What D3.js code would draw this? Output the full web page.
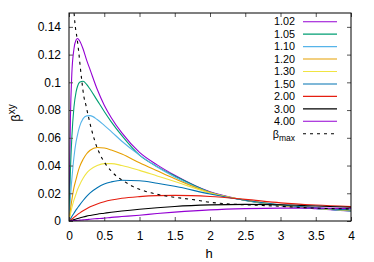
<!DOCTYPE html>
<html><head><meta charset="utf-8">
<script src="https://cdn.jsdelivr.net/npm/d3@7"></script>
<style>
html,body{margin:0;padding:0;background:#fff;}
svg{display:block;font-family:"Liberation Sans",Arial,Helvetica,sans-serif;}
</style></head>
<body>
<svg id="c" width="374" height="262"></svg>
<script>
// ---- data ----
const hGrid = [0, 0.02, 0.04, 0.07, 0.1, 0.12, 0.15, 0.2, 0.25, 0.3, 0.4, 0.5, 0.6, 0.75, 1, 1.25, 1.5, 2, 2.5, 3, 3.5, 4];
const seriesNames = ["1.02", "1.05", "1.10", "1.20", "1.30", "1.50", "2.00", "3.00", "4.00"];
const s102 = [0, 0.074, 0.106, 0.124, 0.1305, 0.1316, 0.1300, 0.124, 0.116, 0.109, 0.095, 0.0835, 0.0745, 0.0635, 0.0495, 0.0405, 0.0330, 0.0210, 0.0150, 0.0112, 0.0089, 0.0072];
const s105 = [0, 0.036, 0.060, 0.082, 0.093, 0.097, 0.1000, 0.1008, 0.0985, 0.095, 0.0870, 0.0790, 0.0715, 0.0615, 0.0475, 0.0392, 0.0325, 0.0208, 0.0149, 0.0112, 0.0090, 0.0073];
const s110 = [0, 0.017, 0.030, 0.046, 0.057, 0.062, 0.068, 0.0738, 0.0758, 0.0760, 0.0732, 0.0690, 0.0645, 0.0575, 0.0475, 0.0390, 0.0318, 0.0206, 0.0149, 0.0113, 0.0091, 0.0074];
const s120 = [0, 0.008, 0.015, 0.024, 0.030, 0.034, 0.039, 0.0445, 0.0485, 0.0510, 0.0530, 0.0526, 0.0512, 0.0483, 0.0420, 0.0362, 0.0305, 0.0205, 0.0150, 0.0114, 0.0092, 0.0076];
const s130 = [0, 0.005, 0.0095, 0.015, 0.0195, 0.0225, 0.026, 0.0308, 0.0345, 0.0370, 0.0400, 0.0414, 0.0414, 0.0400, 0.0365, 0.0325, 0.0285, 0.0202, 0.0151, 0.0115, 0.0093, 0.0077];
const s150 = [0, 0.0016, 0.0032, 0.0056, 0.0080, 0.0094, 0.0115, 0.0148, 0.0178, 0.0203, 0.0240, 0.0267, 0.0282, 0.0294, 0.0290, 0.0272, 0.0250, 0.0195, 0.0150, 0.0117, 0.0095, 0.0079];
const s200 = [0, 0.0007, 0.0014, 0.0026, 0.0038, 0.0046, 0.0057, 0.0074, 0.0089, 0.0102, 0.0123, 0.0139, 0.0151, 0.0164, 0.0176, 0.0183, 0.0185, 0.0177, 0.0156, 0.0131, 0.0115, 0.0104];
const s300 = [0, 0.0003, 0.0006, 0.0010, 0.0015, 0.0018, 0.0022, 0.0029, 0.0035, 0.0040, 0.0049, 0.0056, 0.0063, 0.0072, 0.0085, 0.0096, 0.0105, 0.0116, 0.0120, 0.0117, 0.0108, 0.0099];
const s400 = [0, 0.0001, 0.0002, 0.0003, 0.0004, 0.0005, 0.0006, 0.0008, 0.0010, 0.0013, 0.0017, 0.0021, 0.0026, 0.0032, 0.0042, 0.0054, 0.0064, 0.0080, 0.0089, 0.0093, 0.0093, 0.0090];
const betaMaxH = [0.066, 0.075, 0.09, 0.115, 0.14, 0.16, 0.182, 0.21, 0.24, 0.27, 0.33, 0.39, 0.45, 0.52, 0.6, 0.68, 0.77, 0.9, 1.08, 1.3, 1.5, 1.75, 2.0, 2.3, 2.6, 3.0, 3.3, 3.6, 4.0];
const betaMaxV = [0.155, 0.148, 0.140, 0.1316, 0.121, 0.111, 0.101, 0.090, 0.0835, 0.0765, 0.0640, 0.0540, 0.0470, 0.0410, 0.0360, 0.0320, 0.0290, 0.0250, 0.0215, 0.0187, 0.0171, 0.0155, 0.0135, 0.0122, 0.0115, 0.0106, 0.0097, 0.0091, 0.0087];
const xTicks = [0, 0.5, 1, 1.5, 2, 2.5, 3, 3.5, 4];
const yTicks = [0, 0.02, 0.04, 0.06, 0.08, 0.1, 0.12, 0.14];
const yTickLabels = ["0", "0.02", "0.04", "0.06", "0.08", "0.1", "0.12", "0.14"];
const seriesValues = [s102, s105, s110, s120, s130, s150, s200, s300, s400];
const colors = ["#9400d3", "#009e73", "#56b4e9", "#e69f00", "#f0e442", "#0072b2", "#e51e10", "#000000", "#9400d3"];

// ---- drawing ----
const svg = d3.select("#c");
const L = 69, R = 351, T = 13, B = 221;
const x = d3.scaleLinear().domain([0, 4]).range([L, R]);
const y = d3.scaleLinear().domain([0, 0.15]).range([B, T]);

svg.append("defs").append("clipPath").attr("id", "clip")
  .append("rect").attr("x", L).attr("y", T).attr("width", R - L).attr("height", B - T);

const line = d3.line().x(d => x(d[0])).y(d => y(d[1])).curve(d3.curveMonotoneX);
const plot = svg.append("g").attr("clip-path", "url(#clip)");

seriesValues.forEach((vals, i) => {
  plot.append("path")
    .datum(hGrid.map((h, j) => [h, vals[j]]))
    .attr("d", line)
    .attr("fill", "none")
    .attr("stroke", colors[i])
    .attr("stroke-width", 1.1);
});
plot.append("path")
  .datum(betaMaxH.map((h, j) => [h, betaMaxV[j]]))
  .attr("d", line)
  .attr("fill", "none")
  .attr("stroke", "#000")
  .attr("stroke-width", 1.1)
  .attr("stroke-dasharray", "3,4");

// axes (ticks inward, mirrored)
const fs = "12px";
const gB = svg.append("g").attr("transform", `translate(0,${B})`)
  .call(d3.axisBottom(x).tickValues(xTicks).tickSize(-4).tickPadding(10).tickFormat(d => String(d)));
const gT = svg.append("g").attr("transform", `translate(0,${T})`)
  .call(d3.axisTop(x).tickValues(xTicks).tickSize(-4).tickFormat(""));
const gL = svg.append("g").attr("transform", `translate(${L},0)`)
  .call(d3.axisLeft(y).tickValues(yTicks).tickSize(-4).tickPadding(8).tickFormat((d, i) => yTickLabels[i]));
const gR = svg.append("g").attr("transform", `translate(${R},0)`)
  .call(d3.axisRight(y).tickValues(yTicks).tickSize(-4).tickFormat(""));
[gB, gT, gL, gR].forEach(g => {
  g.select(".domain").remove();
  g.selectAll("line").attr("stroke", "#555").attr("stroke-width", 1);
  g.selectAll("text").attr("font-size", fs).attr("fill", "#000")
    .attr("font-family", '"Liberation Sans",Arial,sans-serif');
});

svg.append("rect").attr("x", L).attr("y", T).attr("width", R - L).attr("height", B - T)
  .attr("fill", "none").attr("stroke", "#000").attr("stroke-width", 1);

// axis titles
svg.append("text").attr("x", (L + R) / 2 - 1).attr("y", 258)
  .attr("text-anchor", "middle").attr("font-size", "13px").text("h");
const yl = svg.append("text").attr("transform", "translate(20,113) rotate(-90)")
  .attr("text-anchor", "middle").attr("font-size", "13px");
yl.append("tspan").text("β");
yl.append("tspan").attr("dy", "-5").attr("font-size", "10px").text("xy");

// legend
const lfs = "10.8px";
const ly0 = 21.7, lstep = 12.45;
seriesNames.forEach((name, i) => {
  const yy = ly0 + i * lstep;
  svg.append("text").attr("x", 295).attr("y", yy).attr("dy", "0.35em")
    .attr("text-anchor", "end").attr("font-size", lfs).text(name);
  svg.append("line").attr("x1", 303).attr("x2", 337).attr("y1", yy).attr("y2", yy)
    .attr("stroke", colors[i]).attr("stroke-width", 1.1);
});
{
  const yy = ly0 + seriesNames.length * lstep;
  const t = svg.append("text").attr("x", 295).attr("y", yy).attr("dy", "0.35em")
    .attr("text-anchor", "end").attr("font-size", lfs);
  t.append("tspan").text("β");
  t.append("tspan").attr("dy", "3").attr("font-size", "8.5px").text("max");
  svg.append("line").attr("x1", 303).attr("x2", 337).attr("y1", yy).attr("y2", yy)
    .attr("stroke", "#000").attr("stroke-width", 1.1).attr("stroke-dasharray", "3,4");
}
</script>
</body></html>
